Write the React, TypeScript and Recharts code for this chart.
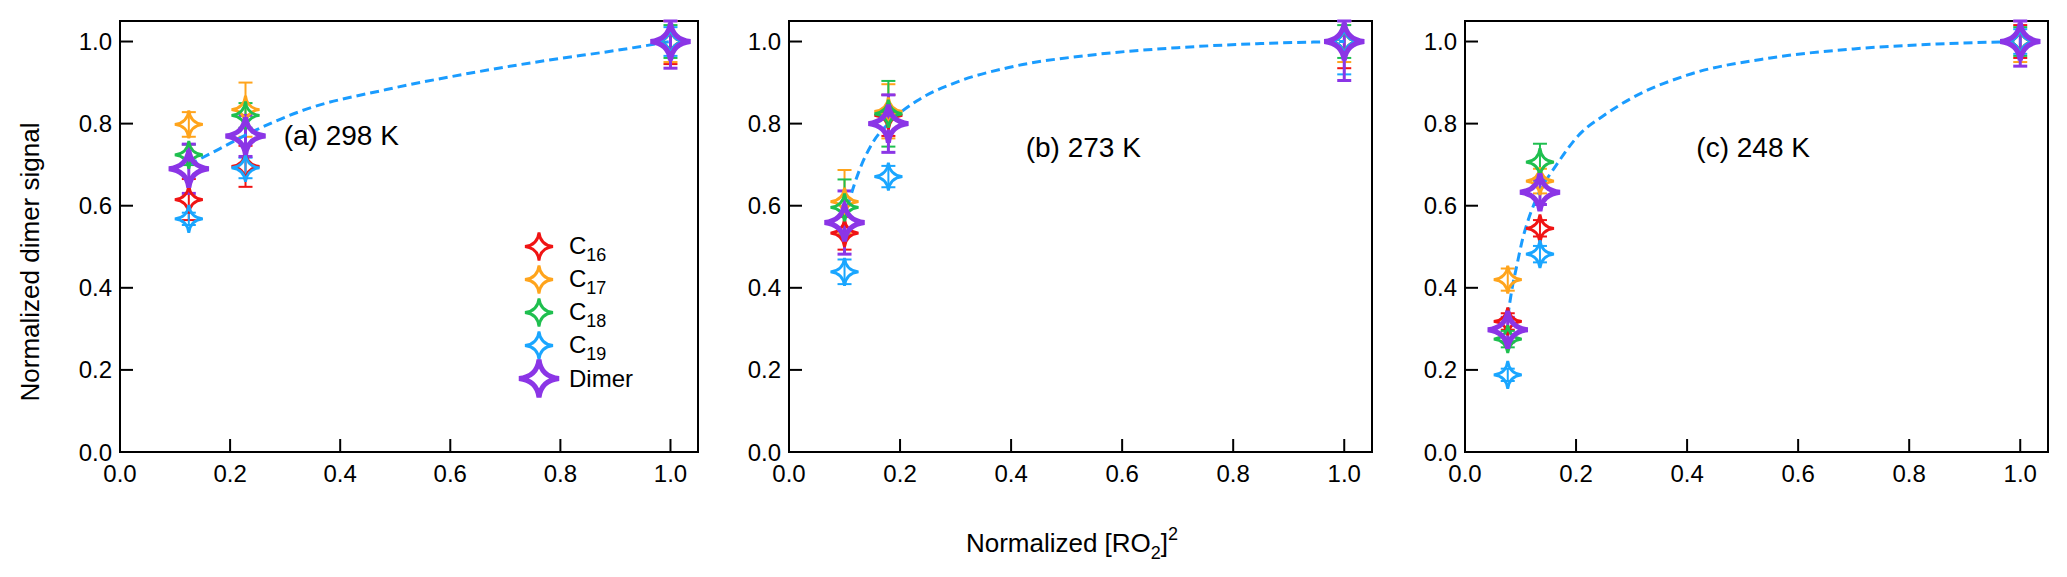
import React from "react";
import {
  ErrorBar,
  Legend,
  ReferenceArea,
  ReferenceDot,
  Scatter,
  ScatterChart,
  XAxis,
  YAxis,
} from "recharts";

// shared
const axisTicks = [0, 0.2, 0.4, 0.6, 0.8, 1.0];
const seriesColors = ["#f01414", "#ffa41c", "#1fbf4f", "#1aa6ff", "#8b35e6"];
const seriesBase = ["C", "C", "C", "C", "Dimer"];
const seriesSub = ["16", "17", "18", "19", ""];

// (a) 298 K  -- errors are [minus, plus]
const xA = [0.125, 0.228, 1.0];
const c16A = [0.615, 0.696, 1.0];
const c17A = [0.798, 0.834, 1.0];
const c18A = [0.724, 0.82, 1.0];
const c19A = [0.568, 0.692, 1.0];
const dimerA = [0.69, 0.77, 1.0];
const c16ErrA = [[0.05, 0.05], [0.05, 0.05], [0.055, 0.05]];
const c17ErrA = [[0.03, 0.03], [0.066, 0.066], [0.05, 0.05]];
const c18ErrA = [[0.025, 0.025], [0.03, 0.03], [0.04, 0.04]];
const c19ErrA = [[0.015, 0.015], [0.025, 0.025], [0.035, 0.035]];
const dimerErrA = [[0.06, 0.06], [0.05, 0.05], [0.065, 0.05]];
const fitXA = [0.125, 0.18, 0.228, 0.336, 0.484, 0.632, 0.78, 0.9, 1.0];
const fitYA = [0.7, 0.738, 0.772, 0.834, 0.883, 0.922, 0.955, 0.978, 1.0];

// (b) 273 K
const xB = [0.1, 0.179, 1.0];
const c16B = [0.533, 0.82, 1.0];
const c17B = [0.61, 0.83, 1.0];
const c18B = [0.596, 0.824, 1.0];
const c19B = [0.439, 0.671, 1.0];
const dimerB = [0.559, 0.8, 1.0];
const c16ErrB = [[0.04, 0.04], [0.05, 0.05], [0.065, 0.05]];
const c17ErrB = [[0.077, 0.077], [0.066, 0.066], [0.05, 0.05]];
const c18ErrB = [[0.068, 0.068], [0.08, 0.08], [0.04, 0.04]];
const c19ErrB = [[0.03, 0.03], [0.026, 0.026], [0.08, 0.05]];
const dimerErrB = [[0.077, 0.077], [0.07, 0.07], [0.095, 0.05]];
const fitXB = [0.1, 0.11, 0.125, 0.15, 0.179, 0.23, 0.3, 0.4, 0.55, 0.7, 0.85, 1.0];
const fitYB = [0.565, 0.618, 0.68, 0.752, 0.8, 0.855, 0.9, 0.938, 0.968, 0.985, 0.995, 1.0];

// (c) 248 K
const xC = [0.077, 0.135, 1.0];
const c16C = [0.318, 0.545, 1.0];
const c17C = [0.42, 0.66, 1.0];
const c18C = [0.275, 0.706, 1.0];
const c19C = [0.188, 0.482, 1.0];
const dimerC = [0.298, 0.633, 1.0];
const c16ErrC = [[0.02, 0.02], [0.02, 0.02], [0.04, 0.04]];
const c17ErrC = [[0.027, 0.027], [0.03, 0.03], [0.05, 0.05]];
const c18ErrC = [[0.02, 0.02], [0.045, 0.045], [0.035, 0.035]];
const c19ErrC = [[0.015, 0.015], [0.02, 0.02], [0.03, 0.03]];
const dimerErrC = [[0.03, 0.03], [0.03, 0.03], [0.06, 0.05]];
const fitXC = [0.077, 0.085, 0.093, 0.104, 0.114, 0.135, 0.165, 0.207, 0.25, 0.3, 0.4, 0.55, 0.7, 0.85, 1.0];
const fitYC = [0.33, 0.4, 0.452, 0.52, 0.566, 0.635, 0.7, 0.775, 0.82, 0.862, 0.918, 0.96, 0.982, 0.994, 1.0];

const FONT = "'Liberation Sans', Arial, sans-serif";
const FIT_COLOR = "#1a9cff";

const fmt = (v: number) => v.toFixed(1);

const toPoints = (xs: number[], ys: number[], errs?: number[][]) =>
  xs.map((x, i) => ({ x, y: ys[i], err: errs ? errs[i] : [0, 0] }));

function starPath(cx: number, cy: number, rx: number, ry: number) {
  const kx = rx * 0.1;
  const ky = ry * 0.1;
  return (
    `M${cx},${cy - ry} Q${cx + kx},${cy - ky} ${cx + rx},${cy} ` +
    `Q${cx + kx},${cy + ky} ${cx},${cy + ry} ` +
    `Q${cx - kx},${cy + ky} ${cx - rx},${cy} ` +
    `Q${cx - kx},${cy - ky} ${cx},${cy - ry} Z`
  );
}

const isDimer = (i: number) => i === 4;

function starShape(i: number) {
  const rx = isDimer(i) ? 20 : 14;
  const ry = isDimer(i) ? 19 : 14;
  const sw = isDimer(i) ? 5 : 2.8;
  return (props: any) => (
    <path
      d={starPath(props.cx, props.cy, rx, ry)}
      fill="none"
      stroke={seriesColors[i]}
      strokeWidth={sw}
      strokeLinejoin="miter"
    />
  );
}

function SeriesLegend() {
  return (
    <div style={{ fontFamily: FONT, color: "#000" }}>
      {seriesBase.map((base, i) => (
        <div key={i} style={{ display: "flex", alignItems: "center", height: 33 }}>
          <svg width={44} height={33} style={{ overflow: "visible" }}>
            {starShape(i)({ cx: 22, cy: 16.5 })}
          </svg>
          <span style={{ fontSize: 24, marginLeft: 8, lineHeight: "33px" }}>
            {base}
            {seriesSub[i] && (
              <span style={{ fontSize: 18, position: "relative", top: 7 }}>{seriesSub[i]}</span>
            )}
          </span>
        </div>
      ))}
    </div>
  );
}

interface PanelProps {
  left: number;
  width: number;
  yAxisWidth: number;
  xs: number[];
  values: number[][];
  errors: number[][][];
  fitX: number[];
  fitY: number[];
  title: string;
  titleX: number;
  titleY: number;
  showLegend?: boolean;
}

function Panel({ left, width, yAxisWidth, xs, values, errors, fitX, fitY, title, titleX, titleY, showLegend }: PanelProps) {
  return (
    <div style={{ position: "absolute", left, top: 0 }}>
      <ScatterChart width={width} height={577} margin={{ top: 21, right: 2, left: 0, bottom: 95 }}>
        <XAxis
          type="number"
          dataKey="x"
          domain={[0, 1.05]}
          ticks={axisTicks}
          interval={0}
          allowDataOverflow
          tickFormatter={fmt}
          height={30}
          tickSize={-13}
          tickMargin={26}
          tick={{ fontSize: 24, fill: "#000" }}
          axisLine={{ stroke: "#000", strokeWidth: 2 }}
          tickLine={{ stroke: "#000", strokeWidth: 2 }}
        />
        <YAxis
          type="number"
          dataKey="y"
          domain={[0, 1.05]}
          ticks={axisTicks}
          interval={0}
          allowDataOverflow
          tickFormatter={fmt}
          width={yAxisWidth}
          tickSize={-13}
          tickMargin={21}
          tick={{ fontSize: 24, fill: "#000" }}
          axisLine={{ stroke: "#000", strokeWidth: 2 }}
          tickLine={{ stroke: "#000", strokeWidth: 2 }}
        />
        <ReferenceArea x1={0} x2={1.05} y1={0} y2={1.05} fill="none" stroke="#000" strokeWidth={2} />
        <Scatter
          data={toPoints(fitX, fitY)}
          shape={() => <g />}
          line={{ stroke: FIT_COLOR, strokeWidth: 3, strokeDasharray: "9 5" }}
          lineJointType="monotoneX"
          isAnimationActive={false}
        />
        {values.map((ys, i) => (
          <Scatter
            key={i}
            data={toPoints(xs, ys, errors[i])}
            shape={starShape(i)}
            isAnimationActive={false}
          >
            <ErrorBar
              dataKey="err"
              direction="y"
              width={7}
              stroke={seriesColors[i]}
              strokeWidth={isDimer(i) ? 3 : 2}
              isAnimationActive={false}
            />
          </Scatter>
        ))}
        <ReferenceDot
          x={titleX}
          y={titleY}
          r={0}
          fill="none"
          stroke="none"
          label={{ value: title, position: "center", fontSize: 28, fill: "#000" }}
        />
        {showLegend && (
          <Legend
            layout="vertical"
            align="center"
            verticalAlign="middle"
            wrapperStyle={{ left: 517, top: 230, width: "auto", height: "auto" }}
            content={() => <SeriesLegend />}
          />
        )}
      </ScatterChart>
    </div>
  );
}

export default function App() {
  return (
    <div
      style={{
        position: "absolute",
        left: 0,
        top: 0,
        width: 2067,
        height: 577,
        background: "#fff",
        fontFamily: FONT,
      }}
    >
      <Panel
        left={0}
        width={700}
        yAxisWidth={120}
        xs={xA}
        values={[c16A, c17A, c18A, c19A, dimerA]}
        errors={[c16ErrA, c17ErrA, c18ErrA, c19ErrA, dimerErrA]}
        fitX={fitXA}
        fitY={fitYA}
        title="(a) 298 K"
        titleX={0.402}
        titleY={0.771}
        showLegend
      />
      <Panel
        left={700}
        width={674}
        yAxisWidth={89}
        xs={xB}
        values={[c16B, c17B, c18B, c19B, dimerB]}
        errors={[c16ErrB, c17ErrB, c18ErrB, c19ErrB, dimerErrB]}
        fitX={fitXB}
        fitY={fitYB}
        title="(b) 273 K"
        titleX={0.53}
        titleY={0.742}
      />
      <Panel
        left={1374}
        width={676}
        yAxisWidth={91}
        xs={xC}
        values={[c16C, c17C, c18C, c19C, dimerC]}
        errors={[c16ErrC, c17ErrC, c18ErrC, c19ErrC, dimerErrC]}
        fitX={fitXC}
        fitY={fitYC}
        title="(c) 248 K"
        titleX={0.519}
        titleY={0.742}
      />
      <div
        style={{
          position: "absolute",
          left: 30,
          top: 262,
          transform: "translate(-50%, -50%) rotate(-90deg)",
          whiteSpace: "nowrap",
          fontSize: 26,
          color: "#000",
        }}
      >
        Normalized dimer signal
      </div>
      <div
        style={{
          position: "absolute",
          left: 1072,
          top: 543,
          transform: "translate(-50%, -50%)",
          whiteSpace: "nowrap",
          fontSize: 26,
          color: "#000",
        }}
      >
        Normalized [RO
        <span style={{ fontSize: 18, position: "relative", top: 7 }}>2</span>]
        <span style={{ fontSize: 18, position: "relative", top: -12 }}>2</span>
      </div>
    </div>
  );
}
